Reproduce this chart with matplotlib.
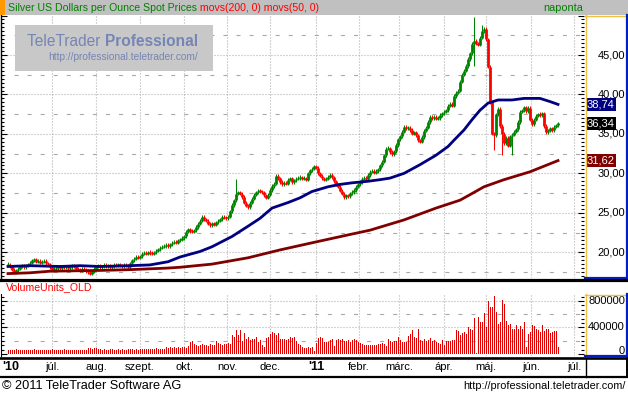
import numpy as np
import matplotlib
matplotlib.use('Agg')
import matplotlib.pyplot as plt
from matplotlib.patches import Rectangle
from matplotlib.lines import Line2D
from matplotlib import transforms
from matplotlib.ticker import MultipleLocator

plt.rcParams['font.family'] = ['Liberation Sans', 'DejaVu Sans']
plt.rcParams['lines.scale_dashes'] = False

# daily closes (USD/oz), one per trading day, Jun 2010 - Jun 2011
close = [
    18.4, 18.2, 17.8, 17.5, 17.7, 17.9, 18.2, 18.3, 18.1, 18.3,
    18.5, 18.7, 19.0, 19.1, 18.8, 18.9, 18.7, 18.8, 18.9, 18.6,
    18.5, 18.1, 17.8, 17.9, 18.0, 18.1, 18.0, 18.2, 18.1, 18.2,
    18.0, 18.1, 18.3, 18.2, 17.9, 17.8, 17.7, 17.9, 17.8, 17.6,
    17.5, 17.3, 17.6, 17.9, 18.2, 18.3, 18.1, 18.2, 18.4, 18.2,
    18.3, 18.1, 18.2, 18.4, 18.3, 18.5, 18.3, 18.2, 18.4, 18.3,
    18.1, 18.6, 19.0, 19.2, 19.4, 19.3, 19.5, 19.8, 19.9, 19.8,
    20.0, 19.9, 19.8, 20.0, 20.2, 20.4, 20.6, 20.7, 20.8, 20.9,
    20.8, 21.0, 21.2, 21.3, 21.2, 21.5, 21.6, 21.8, 22.0, 22.6,
    22.9, 22.7, 22.6, 22.8, 23.2, 23.6, 24.0, 24.5, 24.2, 24.0,
    23.6, 23.4, 23.7, 23.5, 23.8, 24.0, 24.2, 24.5, 24.4, 24.3,
    24.5, 25.2, 26.0, 26.6, 27.4, 27.6, 27.4, 27.0, 26.3, 25.9,
    25.7, 26.3, 26.8, 27.3, 27.6, 27.8, 27.7, 27.6, 27.2, 26.9,
    27.3, 27.9, 28.4, 28.7, 29.7, 29.4, 28.9, 28.6, 28.8, 28.7,
    29.2, 29.4, 28.9, 29.1, 29.3, 29.4, 29.5, 29.3, 29.4, 29.2,
    30.0, 30.4, 30.6, 30.9, 30.7, 30.0, 29.7, 29.4, 29.2, 29.3,
    29.6, 29.8, 29.5, 29.0, 28.6, 28.3, 27.8, 27.4, 27.0, 27.2,
    27.1, 27.5, 27.6, 27.9, 28.3, 28.6, 28.9, 29.3, 29.4, 29.3,
    29.8, 30.2, 30.3, 30.1, 30.3, 30.5, 31.0, 31.5, 32.3, 33.1,
    33.2, 32.7, 32.4, 32.8, 33.6, 34.3, 34.7, 35.3, 35.9, 35.7,
    35.8, 35.5, 35.0, 35.2, 34.8, 34.2, 34.0, 34.6, 35.4, 35.8,
    36.5, 37.2, 37.0, 37.2, 36.9, 37.0, 37.4, 37.6, 37.8, 38.0,
    38.6, 38.8, 38.6, 39.8, 40.2, 40.5, 41.6, 42.5, 43.0, 43.6,
    44.5, 45.2, 46.4, 46.8, 46.5, 46.3, 47.2, 48.0, 48.3, 47.0,
    43.5, 39.0, 35.0, 34.8, 37.5, 38.2, 36.0, 35.0, 33.8, 34.5,
    33.5, 34.7, 34.9, 35.3, 35.6, 36.5, 37.8, 38.0, 38.4, 37.9,
    38.3, 36.8, 36.2, 36.8, 37.3, 37.5, 37.4, 37.6, 36.0, 35.2,
    35.4, 35.7, 35.5, 35.9, 36.1, 36.34,
]

# a few long shadows
wick_high = {114: 29.3, 233: 49.8, 237: 48.8}
wick_low = {233: 43.6, 243: 33.0, 247: 32.3, 252: 32.3}

# moving averages read at some bar positions
ma50_idx = [0, 11, 26, 36, 46, 61, 71, 80, 86, 96, 102, 112, 120, 126, 132, 140,
            146, 152, 160, 166, 172, 180, 186, 191, 198, 206, 214, 220, 223, 228,
            232, 236, 240, 245, 252, 258, 266, 271, 275]
ma50_val = [18.2, 18.3, 18.2, 18.3, 18.2, 18.3, 18.4, 18.8, 19.4, 20.1, 20.7, 22.0,
            23.3, 24.3, 25.6, 26.3, 26.9, 27.7, 28.3, 28.6, 28.8, 29.0, 29.2, 29.4,
            30.0, 31.1, 32.3, 33.4, 34.2, 35.5, 36.8, 38.0, 38.9, 39.3, 39.3, 39.5,
            39.5, 39.1, 38.74]
ma200_idx = [0, 11, 21, 46, 61, 80, 86, 102, 120, 136, 152, 170, 181, 198, 214,
             226, 231, 238, 248, 261, 275]
ma200_val = [17.3, 17.4, 17.6, 17.7, 17.8, 18.0, 18.1, 18.5, 19.3, 20.3, 21.2, 22.2,
             22.8, 24.1, 25.6, 26.6, 27.3, 28.3, 29.2, 30.2, 31.62]

# volume in thousands
volume = [
    55, 60, 65, 60, 70, 55, 62, 68, 60, 58, 65, 60, 62, 70, 60, 58, 62, 60, 65, 60,
    58, 62, 75, 65, 60, 58, 62, 65, 70, 60, 62, 58, 65, 60, 62, 68, 60, 58, 62, 65,
    85, 90, 80, 88, 92, 80, 70, 65, 72, 68, 60, 75, 70, 62, 68, 72, 65, 70, 60, 68,
    75, 72, 70, 65, 70, 68, 75, 72, 78, 70, 80, 75, 72, 78, 85, 75, 70, 80, 78, 100,
    95, 105, 90, 100, 98, 110, 95, 100, 110, 85, 120, 180, 190, 150, 140, 120, 135, 145, 130, 140,
    125, 150, 140, 130, 200, 160, 150, 140, 155, 145, 170, 150, 280, 260, 355, 280, 365, 200, 320, 230,
    250, 215, 230, 220, 250, 180, 210, 140, 110, 240, 260, 300, 330, 310, 280, 320, 230, 220, 225, 210,
    230, 250, 240, 250, 190, 150, 130, 110, 90, 85, 100, 95, 100, 40, 170, 245, 250, 245, 180, 180,
    175, 215, 220, 120, 210, 230, 215, 220, 195, 190, 210, 185, 215, 220, 210, 180, 170, 145, 140, 138,
    142, 140, 135, 140, 135, 150, 145, 160, 150, 115, 230, 195, 185, 200, 190, 250, 215, 180, 185, 175,
    270, 300, 360, 260, 240, 370, 215, 200, 220, 190, 210, 235, 200, 215, 180, 165, 150, 215, 140, 195,
    200, 190, 210, 210, 360, 350, 290, 310, 330, 300, 400, 370, 360, 540, 20, 560, 490, 480, 615, 400,
    800, 710, 710, 880, 630, 460, 480, 820, 760, 500, 430, 450, 380, 370, 440, 380, 420, 370, 490, 110,
    300, 330, 430, 420, 380, 360, 330, 430, 340, 380, 380, 310, 330, 340, 350, 110,
]

month_pos = [22, 44, 66, 88, 109.5, 131, 154, 175.5, 195.5, 218, 239, 261.5, 283]
month_lab = ['júl.', 'aug.', 'szept.', 'okt.', 'nov.', 'dec.', "'11", 'febr.', 'márc.',
             'ápr.', 'máj.', 'jún.', 'júl.']

W, H = 628, 395
def fx(px):
    return px / W
def fy(py):
    return 1 - py / H

fig = plt.figure(figsize=(6.28, 3.95), dpi=100)
fig.patch.set_facecolor('white')

dot = (0, (0.72, 1.44))
dash = (0, (2.9, 6.5))
gcol = '#a8a8a8'

# price panel
ax = fig.add_axes([fx(1), fy(278), fx(584) - fx(1), fy(15) - fy(278)])
ax.set_xlim(-3.5, 288)
ax.set_ylim(16.74, 50.07)
for v in range(20, 50, 5):
    ax.axhline(v, color=gcol, lw=0.8, ls=dot, zorder=0)
for v in np.arange(17.5, 50, 5):
    ax.axhline(v, color=gcol, lw=0.8, ls=dash, zorder=0)
for m in month_pos:
    ax.axvline(m, color=gcol, lw=0.8, ls=dot, zorder=0)

c = np.array(close)
o = np.r_[c[0], c[:-1]]
idx = np.arange(len(c))
cols = np.where(c >= o, '#008000', '#ff0000')
blo = np.minimum(o, c)
bhi = np.maximum(np.maximum(o, c), blo + 0.13)
hi = bhi + 0.2
lo = blo - 0.2
for k, v in wick_high.items():
    hi[k] = v
for k, v in wick_low.items():
    lo[k] = v
ax.vlines(idx, lo, hi, colors=cols, lw=0.75, zorder=3)
ax.vlines(idx, blo, bhi, colors=cols, lw=2.0, zorder=3)

ax.plot(ma200_idx, ma200_val, color='#800000', lw=2.0, zorder=4)
ax.plot(ma50_idx, ma50_val, color='#000080', lw=2.0, zorder=4)

for s in ['top', 'bottom', 'right']:
    ax.spines[s].set_visible(False)
ax.spines['left'].set_linewidth(1.0)
ax.set_xticks([])
ax.yaxis.set_major_locator(MultipleLocator(5))
ax.yaxis.set_minor_locator(MultipleLocator(0.5))
ax.tick_params(axis='y', which='both', direction='in', left=True, right=True,
               labelleft=False, labelright=False, width=0.8)
ax.tick_params(axis='y', which='major', length=4)
ax.tick_params(axis='y', which='minor', length=2.5)

def xa(px):
    return (px - 1) / (584 - 1)

ytr = ax.get_yaxis_transform()
for v in range(20, 50, 5):
    ax.text(xa(625), v, f'{v},00', transform=ytr, ha='right', va='center',
            fontsize=8, clip_on=False)
for val, lab, bg in [(38.74, '38,74', '#000080'), (36.34, '36,34', '#000000'),
                     (31.62, '31,62', '#800000')]:
    ax.text(xa(587), val, lab, transform=ytr, ha='left', va='center', fontsize=8,
            color='white', clip_on=False, zorder=10,
            bbox=dict(facecolor=bg, edgecolor='none', boxstyle='square,pad=0.12'))

# volume panel
axv = fig.add_axes([fx(1), fy(356), fx(584) - fx(1), fy(294) - fy(356)])
axv.set_xlim(-3.5, 288)
axv.set_ylim(-30000, 905000)
for v in [400000, 800000]:
    axv.axhline(v, color=gcol, lw=0.8, ls=dot, zorder=0)
for v in [200000, 600000]:
    axv.axhline(v, color=gcol, lw=0.8, ls=dash, zorder=0)
for m in month_pos:
    axv.axvline(m, color=gcol, lw=0.8, ls=dot, zorder=0)
axv.bar(idx, np.array(volume) * 1000, width=0.5, color='#e00000', linewidth=0,
        antialiased=False, zorder=3)
for s in ['top', 'bottom', 'right']:
    axv.spines[s].set_visible(False)
axv.set_xticks([])
axv.yaxis.set_major_locator(MultipleLocator(400000))
axv.yaxis.set_minor_locator(MultipleLocator(400000 / 6))
axv.tick_params(axis='y', which='both', direction='in', left=True, right=True,
                labelleft=False, labelright=False, width=0.8)
axv.tick_params(axis='y', which='major', length=4)
axv.tick_params(axis='y', which='minor', length=2.5)
vtr = axv.get_yaxis_transform()
axv.text(xa(625), 800000, '800000', transform=vtr, ha='right', va='center', fontsize=8, clip_on=False)
axv.text(xa(625), 400000, '400000', transform=vtr, ha='right', va='center', fontsize=8, clip_on=False)
axv.text(xa(625), 0, '0', transform=vtr, ha='right', va='baseline', fontsize=8, clip_on=False)

def hline(py, x0, x1, lw, color):
    fig.add_artist(Line2D([fx(x0), fx(x1)], [fy(py), fy(py)], lw=lw, color=color, zorder=2))

def vline(px, y0, y1, lw, color):
    fig.add_artist(Line2D([fx(px), fx(px)], [fy(y0), fy(y1)], lw=lw, color=color, zorder=2))

def rect(x0, y0, x1, y1, color, z=1):
    fig.add_artist(Rectangle((fx(x0), fy(y1)), fx(x1) - fx(x0), fy(y0) - fy(y1),
                             facecolor=color, edgecolor='none', zorder=z))

def after(t, s, **kw):
    # put text s right after text t, same line
    fig.canvas.draw()
    bb = t.get_window_extent()
    x = fig.transFigure.inverted().transform((bb.x1, bb.y0))[0]
    return fig.text(x, t.get_position()[1], s, va=t.get_va(), ha='left', **kw)

# title bar
rect(0, 0, 628, 15, '#c0c0c0')
rect(0, 0, 5, 15, '#ff9900')
t1 = fig.text(fx(8), fy(8), 'Silver US Dollars per Ounce Spot Prices', color='#008000',
              fontsize=7.6, va='center', ha='left', zorder=3)
after(t1, ' movs(200, 0) movs(50, 0)', color='#ff0000', fontsize=7.6, zorder=3)
fig.text(fx(583), fy(8), 'naponta', color='#008000', fontsize=7.8, va='center', ha='right', zorder=3)

# right panels
for y0, y1 in [(15, 278), (294, 356)]:
    vline(585.5, y0, y1, 1.0, '#f0c040')
    hline(y0 + 0.5, 585, 627, 1.0, '#f0c040')
    vline(626.5, y0, y1, 1.6, '#0020c0')
    hline(y1 - 0.5, 585, 627, 1.6, '#0020c0')

# watermark
rect(15, 25, 213, 71, '#c8c8c8', z=1)
wm = fig.text(fx(27), fy(42), 'TeleTrader ', color='#7585b5', fontsize=11.2,
              va='center', ha='left', zorder=2)
after(wm, 'Professional', color='#7585b5', fontsize=11.2, fontweight='bold', zorder=2)
fig.text(fx(48), fy(57), 'http://professional.teletrader.com/', color='#7585b5',
         fontsize=7.3, va='center', ha='left', zorder=2)

# separators and date row
hline(279.5, 0, 628, 2.3, 'black')
fig.text(fx(6), fy(287), 'VolumeUnits_OLD', color='#ff0000', fontsize=7.6, va='center', ha='left')
hline(358, 0, 628, 1.9, 'black')
hline(376.5, 0, 628, 1.6, 'black')
vline(585.5, 358, 377, 1.0, 'black')
vline(627, 358, 377, 1.4, 'black')

trans = transforms.blended_transform_factory(axv.transData, fig.transFigure)
fig.text(1.5, fy(367), "'10", transform=trans, ha='center', va='center', fontsize=9,
         fontweight='bold')
for m, lab in zip(month_pos, month_lab):
    bold = lab.startswith("'")
    fig.text(m, fy(367), lab, transform=trans, ha='center', va='center',
             fontsize=9 if bold else 8, fontweight='bold' if bold else 'normal')

# footer
fig.text(fx(2), fy(386), '© 2011 TeleTrader Software AG', fontsize=9.2, va='center', ha='left')
fig.text(fx(626), fy(386), 'http://professional.teletrader.com/', fontsize=7.8,
         va='center', ha='right')

fig.savefig('out.png', dpi=100, facecolor='white')
